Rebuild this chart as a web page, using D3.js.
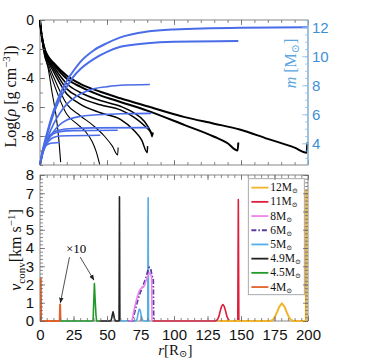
<!DOCTYPE html>
<html>
<head>
<meta charset="utf-8">
<script src="https://cdn.jsdelivr.net/npm/d3@7"></script>
<style>
body { margin: 0; background: #fff; }
svg { display: block; }
</style>
</head>
<body>
<div id="wrapper"></div>
<script>
// models, legend order
const models = ["12", "11", "8", "6", "5", "4.9", "4.5", "4"];
const modelColors = ["#f2b42b", "#dc1f3c", "#ee82ee", "#5a3c9e", "#55aee8", "#222222", "#229a2a", "#e2622a"];

// top panel: Log(rho) vs r  [r in Rsun, log rho]
const rho12 = [[0,0],[0.5,-0.5],[1.5,-1.2],[3.5,-2.0],[6,-2.5],[10,-2.95],[20,-3.85],[30,-4.4],[45,-4.95],[60,-5.4],[80,-5.95],[108,-6.7],[130,-7.15],[149,-7.55],[170,-8.2],[190,-8.8],[199,-9.15],[199.5,-8.45]];
const rho11 = [[0,0],[0.5,-0.5],[1.5,-1.2],[3.5,-2.05],[6,-2.55],[10,-3.05],[20,-4.05],[30,-4.6],[45,-5.2],[60,-5.65],[80,-6.25],[108,-7.25],[130,-8.05],[140,-8.5],[147.5,-9.0],[148,-8.45]];
const rho8 = [[0,0],[0.5,-0.5],[1.5,-1.2],[3.5,-2.1],[6,-2.65],[10,-3.2],[20,-4.4],[30,-5.0],[45,-5.55],[60,-5.95],[70,-6.4],[78,-7.0],[83,-7.75],[84,-7.95],[84.3,-7.75]];
const rho6 = [[0,0],[0.5,-0.5],[1.5,-1.25],[3.5,-2.15],[6,-2.75],[10,-3.35],[20,-4.75],[30,-5.35],[45,-5.85],[60,-6.2],[70,-6.7],[78,-7.3],[83,-7.85],[83.6,-8.05],[84,-7.8]];
const rho5 = [[0,0],[0.5,-0.5],[1.5,-1.25],[3.5,-2.2],[6,-2.85],[10,-3.55],[20,-5.1],[30,-5.8],[45,-6.4],[60,-6.85],[70,-7.6],[76,-8.3],[80,-9.15],[80.3,-8.7]];
const rho49 = [[0,0],[0.5,-0.55],[1.5,-1.3],[3.5,-2.3],[6,-3.0],[10,-3.9],[20,-5.8],[30,-6.6],[40,-7.3],[48,-8.0],[54,-8.7],[58,-9.3],[58.3,-8.8]];
const rho45 = [[0,0],[0.5,-0.55],[1.5,-1.35],[3.5,-2.4],[6,-3.2],[10,-4.3],[20,-6.5],[28,-7.2],[34,-7.7],[39,-8.4],[42,-9.1],[44.5,-9.95]];
const rho4 = [[0,0],[0.5,-0.6],[1.5,-1.4],[3,-2.3],[6,-3.3],[9,-5.0],[12,-6.6],[14,-8.2],[15.4,-9.8]];

// top panel: enclosed mass m vs r  [r, Msun]
const mass12 = [[0,2.5],[2,3.5],[5,4.6],[10,6.2],[15,7.4],[20,8.3],[25,9.0],[30,9.6],[40,10.4],[50,10.9],[60,11.3],[80,11.7],[100,11.85],[150,11.97],[200,12.0]];
const mass11 = [[0,2.5],[2,3.4],[5,4.5],[10,6.0],[15,7.1],[20,7.9],[25,8.6],[30,9.1],[40,9.8],[50,10.3],[60,10.65],[80,10.9],[100,11.0],[148,11.05]];
const mass8 = [[0,2.5],[2,3.3],[5,4.2],[10,5.3],[15,6.1],[20,6.7],[25,7.1],[30,7.4],[40,7.75],[50,7.9],[60,8.0],[82,8.05]];
const mass6 = [[0,2.5],[2,3.3],[5,4.0],[10,4.8],[15,5.3],[20,5.6],[30,5.85],[40,5.95],[60,6.03],[83,6.06]];
const mass5 = [[0,2.5],[2,3.4],[4,4.0],[7,4.5],[10,4.75],[15,4.92],[25,5.02],[40,5.06],[81,5.08]];
const mass49 = [[0,2.5],[2,3.4],[4,3.9],[7,4.4],[10,4.65],[15,4.8],[25,4.87],[58,4.9]];
const mass45 = [[0,2.5],[2,3.3],[4,3.8],[7,4.2],[10,4.4],[15,4.5],[45,4.55]];
const mass4 = [[0,2.5],[1,3.1],[2,3.5],[4,3.8],[7,3.97],[10,4.02],[15,4.05]];

// bottom panel: convective velocity [r, km/s]
const vconv12 = [[133,0],[172,0],[174,0.08],[175.5,0.25],[177,0.5],[178.5,0.78],[180.5,0.97],[182.5,0.78],[184,0.5],[185.5,0.25],[187,0.08],[189,0],[198.4,0],[198.7,7.2]];
const vconv11 = [[84,0],[131,0],[132.5,0.08],[133.5,0.25],[134.5,0.55],[135.5,0.8],[136.5,0.9],[137.5,0.8],[138.5,0.55],[139.5,0.25],[140.5,0.08],[142,0],[147.6,0],[148,6.65],[148.4,0]];
const vconv8 = [[66,0],[68.5,0],[69.5,0.35],[70.5,0.7],[72.5,1.3],[74,1.65],[75.5,1.8],[77,1.85],[78,1.95],[79,2.2],[80.5,2.5],[82,2.65],[83.3,2.4],[83.6,0]];
const vconv6 = [[66,0],[69,0],[71,0.6],[73,1.15],[75,1.6],[77,1.95],[79,2.35],[80.5,2.75],[81.5,2.95],[82.8,2.8],[83.5,2.45],[84.5,2.4],[84.8,0]];
const vconv5 = [[59.6,0],[71.5,0],[72.5,0.12],[73.2,0.4],[73.8,0.6],[74.3,0.65],[74.9,0.55],[75.5,0.3],[76.3,0.08],[77.5,0],[80.4,0],[80.7,6.75],[81,0],[82,0]];
const vconv49 = [[44.5,0],[52.8,0],[53.5,0.15],[54,0.35],[54.5,0.5],[55,0.35],[55.5,0.15],[56.3,0],[59,0],[59.3,6.8],[59.6,0]];
const vconv45 = [[15.3,0],[39.6,0],[40.6,2.05],[41.2,1.1],[41.8,0.3],[42.3,0],[44.5,0]];
const vconv4 = [[0.6,2.35],[0.8,0],[14.7,0],[15,0.9],[15.3,0]];

const rhoTicks = [0, -2, -4, -6, -8];
const massTicks = [4, 6, 8, 10, 12];
const rTicks = [0, 25, 50, 75, 100, 125, 150, 175, 200];
const vTicks = [0, 1, 2, 3, 4, 5, 6, 7, 8];

const series = models.map((m, i) => ({
    name: m,
    color: modelColors[i],
    rho: [rho12, rho11, rho8, rho6, rho5, rho49, rho45, rho4][i],
    mass: [mass12, mass11, mass8, mass6, mass5, mass49, mass45, mass4][i],
    v: [vconv12, vconv11, vconv8, vconv6, vconv5, vconv49, vconv45, vconv4][i]
}));

const width = 370, height = 359;
const frameColor = "#6a6a6a";
const massColor = "#3d8fd6";
const blue = "#4a6ce8";
const sans = "Liberation Sans, Arial, sans-serif";
const serif = "Liberation Serif, DejaVu Serif, serif";

const svg = d3.select("#wrapper").append("svg")
    .attr("width", width)
    .attr("height", height);

const x = d3.scaleLinear().domain([0, 200]).range([40, 308]);
const yRho = d3.scaleLinear().domain([-10, 0]).range([165, 20]);
const yMass = d3.scaleLinear().domain([2.5, 12.5]).range([165, 20]);
const yV = d3.scaleLinear().domain([0, 8]).range([321, 175]);

svg.append("clipPath").attr("id", "clipTop")
    .append("rect")
    .attr("x", x(0) - 1).attr("y", yRho(0))
    .attr("width", x(200) - x(0) + 2).attr("height", yRho(-10) - yRho(0));

// generic tick drawer: inward ticks, optional labels
function tickAxis(axisFn, scale, values, len, tx, ty, fmt, color) {
    const g = svg.append("g")
        .attr("transform", `translate(${tx},${ty})`)
        .call(axisFn(scale).tickValues(values).tickSize(-len).tickSizeOuter(0)
            .tickPadding(4).tickFormat(fmt || (() => "")));
    g.select(".domain").remove();
    g.selectAll(".tick line").attr("stroke", color || frameColor).attr("stroke-width", 0.8);
    g.selectAll("text").attr("font-family", sans).attr("font-size", 14).attr("fill", "#111");
    return g;
}
const rng = (a, b, s) => d3.range(a, b + s / 2, s).map(v => +v.toFixed(3));

// ---------- top panel ----------
const topPanel = svg.append("g");
const lineRho = d3.line().x(d => x(d[0])).y(d => yRho(d[1])).curve(d3.curveMonotoneX);
const lineMass = d3.line().x(d => x(d[0])).y(d => yMass(d[1])).curve(d3.curveMonotoneX);

// frame
topPanel.append("rect")
    .attr("x", x(0)).attr("y", yRho(0))
    .attr("width", x(200) - x(0)).attr("height", yRho(-10) - yRho(0))
    .attr("fill", "none").attr("stroke", frameColor).attr("stroke-width", 0.8);

const topPlot = topPanel.append("g").attr("clip-path", "url(#clipTop)");
topPlot.selectAll("path.rho")
    .data(series.slice().reverse())
    .enter()
    .append("path")
    .attr("class", "rho")
    .attr("d", d => lineRho(d.rho))
    .attr("fill", "none")
    .attr("stroke", "#000")
    .attr("stroke-width", d => (d.name === "12" || d.name === "11") ? 2 : (+d.name >= 5 ? 1.5 : 1.1));

topPlot.selectAll("path.mass")
    .data(series.slice().reverse())
    .enter()
    .append("path")
    .attr("class", "mass")
    .attr("d", d => lineMass(d.mass))
    .attr("fill", "none")
    .attr("stroke", blue)
    .attr("stroke-width", d => (d.name === "12" || d.name === "11") ? 2 : 1.6);

tickAxis(d3.axisBottom, x, rng(0, 200, 10), 3, 0, yRho(-10));
tickAxis(d3.axisBottom, x, rng(0, 200, 50), 5, 0, yRho(-10));
tickAxis(d3.axisTop, x, rng(0, 200, 10), 3, 0, yRho(0));
tickAxis(d3.axisTop, x, rng(0, 200, 50), 5, 0, yRho(0));
tickAxis(d3.axisLeft, yRho, rng(-10, 0, 1), 3, x(0), 0);
tickAxis(d3.axisLeft, yRho, rhoTicks, 5, x(0), 0, d => String(d))
    .selectAll("text").attr("dx", -2);

// right mass axis
svg.append("line")
    .attr("x1", x(200)).attr("x2", x(200))
    .attr("y1", yMass(12.5)).attr("y2", yMass(2.5))
    .attr("stroke", "#8cc0ea").attr("stroke-width", 1.2);
tickAxis(d3.axisRight, yMass, rng(3, 12.5, 0.5), 3, x(200), 0, null, "#8cc0ea");
tickAxis(d3.axisRight, yMass, massTicks, 6, x(200), 0, d => String(d), "#8cc0ea")
    .selectAll("text").attr("fill", massColor).attr("font-size", 15);

// ---------- bottom panel ----------
const botPanel = svg.append("g");
const lineV = d3.line().x(d => x(d[0])).y(d => yV(d[1]));

botPanel.append("rect")
    .attr("x", x(0)).attr("y", yV(8))
    .attr("width", x(200) - x(0)).attr("height", yV(0) - yV(8))
    .attr("fill", "none").attr("stroke", frameColor).attr("stroke-width", 0.8);

tickAxis(d3.axisBottom, x, rng(0, 200, 5), 3, 0, yV(0));
tickAxis(d3.axisBottom, x, rTicks, 5, 0, yV(0), d => String(d))
    .selectAll("text").attr("font-size", 15).attr("dy", "1em");
tickAxis(d3.axisTop, x, rng(0, 200, 5), 3, 0, yV(8));
tickAxis(d3.axisTop, x, rTicks, 5, 0, yV(8));
tickAxis(d3.axisLeft, yV, rng(0, 8, 0.2), 3, x(0), 0);
tickAxis(d3.axisLeft, yV, vTicks, 5, x(0), 0, d => String(d))
    .selectAll("text").attr("font-size", 15).attr("dx", -2);
tickAxis(d3.axisRight, yV, rng(0, 8, 0.2), 3, x(200), 0);
tickAxis(d3.axisRight, yV, vTicks, 5, x(200), 0);

// smallest models drawn last so their zero line sits on top where ranges meet
const botPlot = botPanel.append("g");
botPlot.selectAll("path.v")
    .data(series.slice().reverse())
    .enter()
    .append("path")
    .attr("class", "v")
    .attr("d", d => lineV(d.v))
    .attr("fill", "none")
    .attr("stroke", d => d.color)
    .attr("stroke-linejoin", "round")
    .attr("stroke-width", d => d.name === "6" ? 1.8 : ((d.name === "12" || d.name === "4") ? 2 : 1.6))
    .attr("stroke-dasharray", d => d.name === "6" ? "5,2,1.5,2" : null);

// x10 annotation
const ann = botPanel.append("g");
svg.append("defs").append("marker")
    .attr("id", "arrow").attr("viewBox", "0 0 10 10")
    .attr("refX", 9).attr("refY", 5)
    .attr("markerWidth", 7).attr("markerHeight", 7)
    .attr("orient", "auto")
    .append("path").attr("d", "M0,1 L10,5 L0,9 Z").attr("fill", "#222");
ann.append("text")
    .attr("x", x(27)).attr("y", yV(3.7))
    .attr("text-anchor", "middle")
    .attr("font-family", serif).attr("font-size", 13)
    .text("×10");
[[22, 3.5, 15.2, 1.0], [30, 3.5, 40.2, 2.25]].forEach(a => {
    ann.append("line")
        .attr("x1", x(a[0])).attr("y1", yV(a[1]))
        .attr("x2", x(a[2])).attr("y2", yV(a[3]))
        .attr("stroke", "#222").attr("stroke-width", 0.8)
        .attr("marker-end", "url(#arrow)");
});

// legend
const legend = botPanel.append("g").attr("transform", `translate(${x(155.5)},${yV(7.8)})`);
legend.append("rect")
    .attr("width", 56).attr("height", 116)
    .attr("fill", "#fff").attr("stroke", "#aaa").attr("stroke-width", 1);
const item = legend.selectAll("g.item")
    .data(series)
    .enter()
    .append("g")
    .attr("class", "item")
    .attr("transform", (d, i) => `translate(3,${9 + i * 14.2})`);
item.append("line")
    .attr("x1", 0).attr("x2", 17)
    .attr("stroke", d => d.color).attr("stroke-width", 1.8)
    .attr("stroke-dasharray", d => d.name === "6" ? "5,2,1.5,2" : null);
const itemText = item.append("text")
    .attr("x", 19).attr("y", 3.5)
    .attr("font-family", serif).attr("font-size", 11.5).attr("fill", "#111");
itemText.append("tspan").text(d => d.name + "M");
itemText.append("tspan").attr("font-size", 7).attr("dy", 2).text("⊙");

// ---------- axis titles ----------
const t1 = svg.append("text")
    .attr("transform", `translate(16,${(yRho(0) + yRho(-10)) / 2 + 4}) rotate(-90)`)
    .attr("text-anchor", "middle")
    .attr("font-family", serif).attr("font-size", 16).attr("fill", "#111");
t1.append("tspan").text("Log(");
t1.append("tspan").attr("font-style", "italic").text("ρ");
t1.append("tspan").text(" [g cm");
t1.append("tspan").attr("font-size", 11).attr("dy", -6).text("−3");
t1.append("tspan").attr("dy", 6).text("])");

const t2 = svg.append("text")
    .attr("transform", `translate(296,${yMass(9.5)}) rotate(-90)`)
    .attr("text-anchor", "middle")
    .attr("font-family", serif).attr("font-size", 16).attr("fill", "#5aa6e0");
t2.append("tspan").attr("font-style", "italic").text("m");
t2.append("tspan").text(" [M");
t2.append("tspan").attr("font-size", 11).attr("dy", 3).text("⊙");
t2.append("tspan").attr("dy", -3).text("]");

const t3 = svg.append("text")
    .attr("transform", `translate(21,${yV(4) + 2}) rotate(-90)`)
    .attr("text-anchor", "middle")
    .attr("font-family", serif).attr("font-size", 16).attr("fill", "#111");
t3.append("tspan").attr("font-style", "italic").text("v");
t3.append("tspan").attr("font-size", 11).attr("dy", 4).text("conv");
t3.append("tspan").attr("dy", -4).text("[km s");
t3.append("tspan").attr("font-size", 11).attr("dy", -6).text("−1");
t3.append("tspan").attr("dy", 6).text("]");

const t4 = svg.append("text")
    .attr("x", x(101)).attr("y", 355)
    .attr("text-anchor", "middle")
    .attr("font-family", serif).attr("font-size", 15).attr("fill", "#111");
t4.append("tspan").attr("font-style", "italic").text("r");
t4.append("tspan").text("[R");
t4.append("tspan").attr("font-size", 10).attr("dy", 2).text("⊙");
t4.append("tspan").attr("dy", -2).text("]");
</script>
</body>
</html>
